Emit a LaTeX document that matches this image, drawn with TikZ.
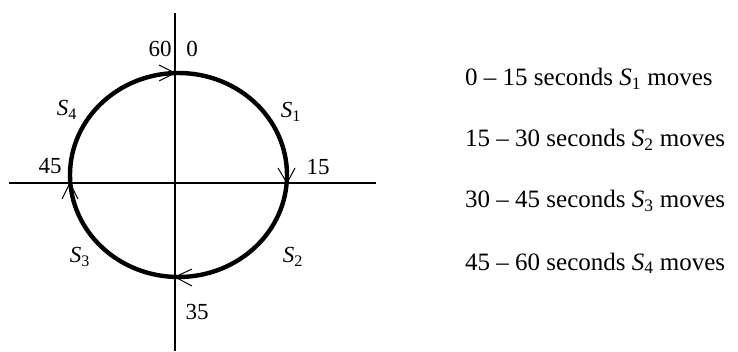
\documentclass[tikz,border=0pt]{standalone}
\usepackage{fontspec}
\setmainfont{Liberation Serif}
\usepackage{tikz}

\begin{document}
\begin{tikzpicture}[x=1pt,y=1pt,
		every node/.style={font=\fontsize{23}{27}\selectfont, inner sep=0pt},
		axis/.style={line width=1.3pt},
		ring/.style={line width=4.4pt},
		barb/.style={line width=1pt},
		legend/.style={anchor=base west, font=\fontsize{25}{30}\selectfont}]
		\useasboundingbox (0,0) rectangle (738,351);
		\coordinate (o) at (175, 168);
		\coordinate (t0) at (175, 278);
		\coordinate (t15) at (287, 168);
		\coordinate (t35) at (175, 74);
		\coordinate (t45) at (70, 168);
		\draw[axis] (175, 338) -- (175, 0);
		\draw[axis] (9, 168) -- (376, 168);
		\draw[ring] (178.5, 176) ellipse [x radius=108.5, y radius=102];
		\draw[barb] ([shift={(-16,8)}]t0) -- (t0) -- ([shift={(-16,-8)}]t0);
		\draw[barb] ([shift={(-9,15)}]t15) -- (t15) -- ([shift={(8,15)}]t15);
		\draw[barb] ([shift={(17,8)}]t35) -- (t35) -- ([shift={(17,-9)}]t35);
		\draw[barb] ([shift={(-8,-16)}]t45) -- (t45) -- ([shift={(8,-16)}]t45);
		\node (l60) at (160, 302) {60};
		\node (l0) at (192, 302) {0};
		\node (l15) at (318, 184) {15};
		\node (l35) at (197, 39) {35};
		\node (l45) at (50, 185) {45};
		\node (s1) at (291, 239) {\textit{S}\textsubscript{1}};
		\node (s2) at (293, 94) {\textit{S}\textsubscript{2}};
		\node (s3) at (80, 94) {\textit{S}\textsubscript{3}};
		\node (s4) at (67, 241) {\textit{S}\textsubscript{4}};
		\node[legend] (r1) at (465, 265) {0 -- 15 seconds \textit{S}\textsubscript{1} moves};
		\node[legend] (r2) at (465, 204) {15 -- 30 seconds \textit{S}\textsubscript{2} moves};
		\node[legend] (r3) at (465, 143) {30 -- 45 seconds \textit{S}\textsubscript{3} moves};
		\node[legend] (r4) at (465, 81) {45 -- 60 seconds \textit{S}\textsubscript{4} moves};
	\end{tikzpicture}
\end{document}
